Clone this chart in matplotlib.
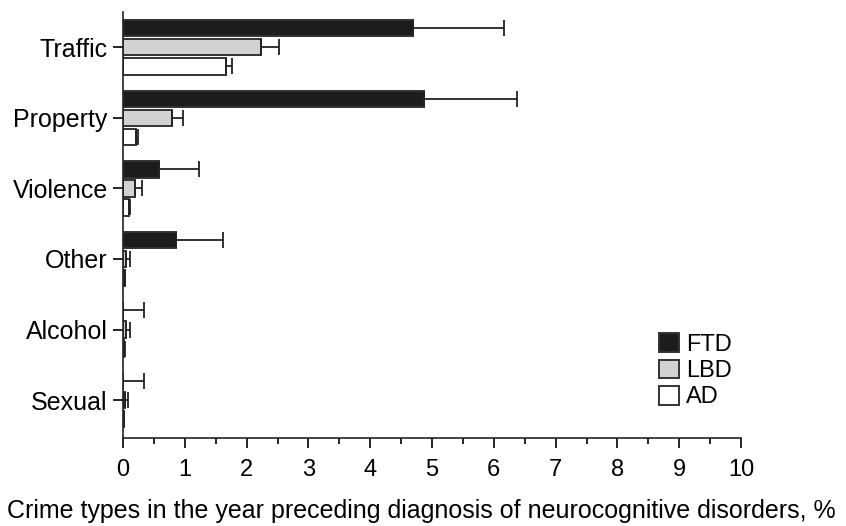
import matplotlib.pyplot as plt
import numpy as np
from matplotlib.ticker import MultipleLocator

plt.rcParams["font.family"] = ["Liberation Sans", "DejaVu Sans"]

categories = ["Traffic", "Property", "Violence", "Other", "Alcohol", "Sexual"]
groups = ["FTD", "LBD", "AD"]

ftd = [4.69, 4.87, 0.58, 0.86, 0.0, 0.0]
ftd_err = [1.48, 1.51, 0.65, 0.75, 0.34, 0.34]
lbd = [2.23, 0.79, 0.20, 0.05, 0.05, 0.03]
lbd_err = [0.29, 0.18, 0.10, 0.07, 0.07, 0.05]
ad = [1.67, 0.21, 0.10, 0.03, 0.02, 0.01]
ad_err = [0.09, 0.03, 0.02, 0.01, 0.01, 0.01]

values = [ftd, lbd, ad]
errors = [ftd_err, lbd_err, ad_err]
colors = ["#1c1c1c", "#d2d2d2", "white"]

fig = plt.figure(figsize=(8.46, 5.26), dpi=100)
ax = fig.add_axes([0.1454, 0.167, 0.7305, 0.81])

y = np.arange(len(categories))[::-1].astype(float)
height = 0.23
offsets = [0.27, 0.0, -0.27]

for vals, errs, col, off, name in zip(values, errors, colors, offsets, groups):
    ax.barh(y + off, vals, height, color=col, edgecolor="#333333", linewidth=1.4, label=name)
    ax.errorbar(vals, y + off, xerr=[np.zeros(len(vals)), errs], fmt="none",
                ecolor="#222222", elinewidth=1.3, capsize=6, capthick=1.3)

ax.set_xlim(0, 10)
ax.set_ylim(-0.54, 5.5)
ax.set_xticks(range(11))
ax.xaxis.set_minor_locator(MultipleLocator(0.5))
ax.set_yticks(y)
ax.set_yticklabels(categories, fontsize=18)
ax.tick_params(axis="x", which="major", labelsize=17, length=7, width=1.2, direction="out", pad=8)
ax.tick_params(axis="x", which="minor", length=4, width=1.2, direction="out")
ax.tick_params(axis="y", length=7, width=1.2, direction="out", pad=4)
for s in ["top", "right"]:
    ax.spines[s].set_visible(False)
for s in ["left", "bottom"]:
    ax.spines[s].set_linewidth(1.2)
    ax.spines[s].set_color("#222222")

ax.set_xlabel("Crime types in the year preceding diagnosis of neurocognitive disorders, %",
              fontsize=18, labelpad=8)
ax.xaxis.set_label_coords(0.483, -0.142)

ax.legend(loc="lower right", bbox_to_anchor=(0.985, 0.07), frameon=False, fontsize=17,
          borderpad=0, borderaxespad=0,
          handlelength=0.85, handleheight=0.85, handletextpad=0.3, labelspacing=0.15)

fig.savefig("out.png", dpi=100)
